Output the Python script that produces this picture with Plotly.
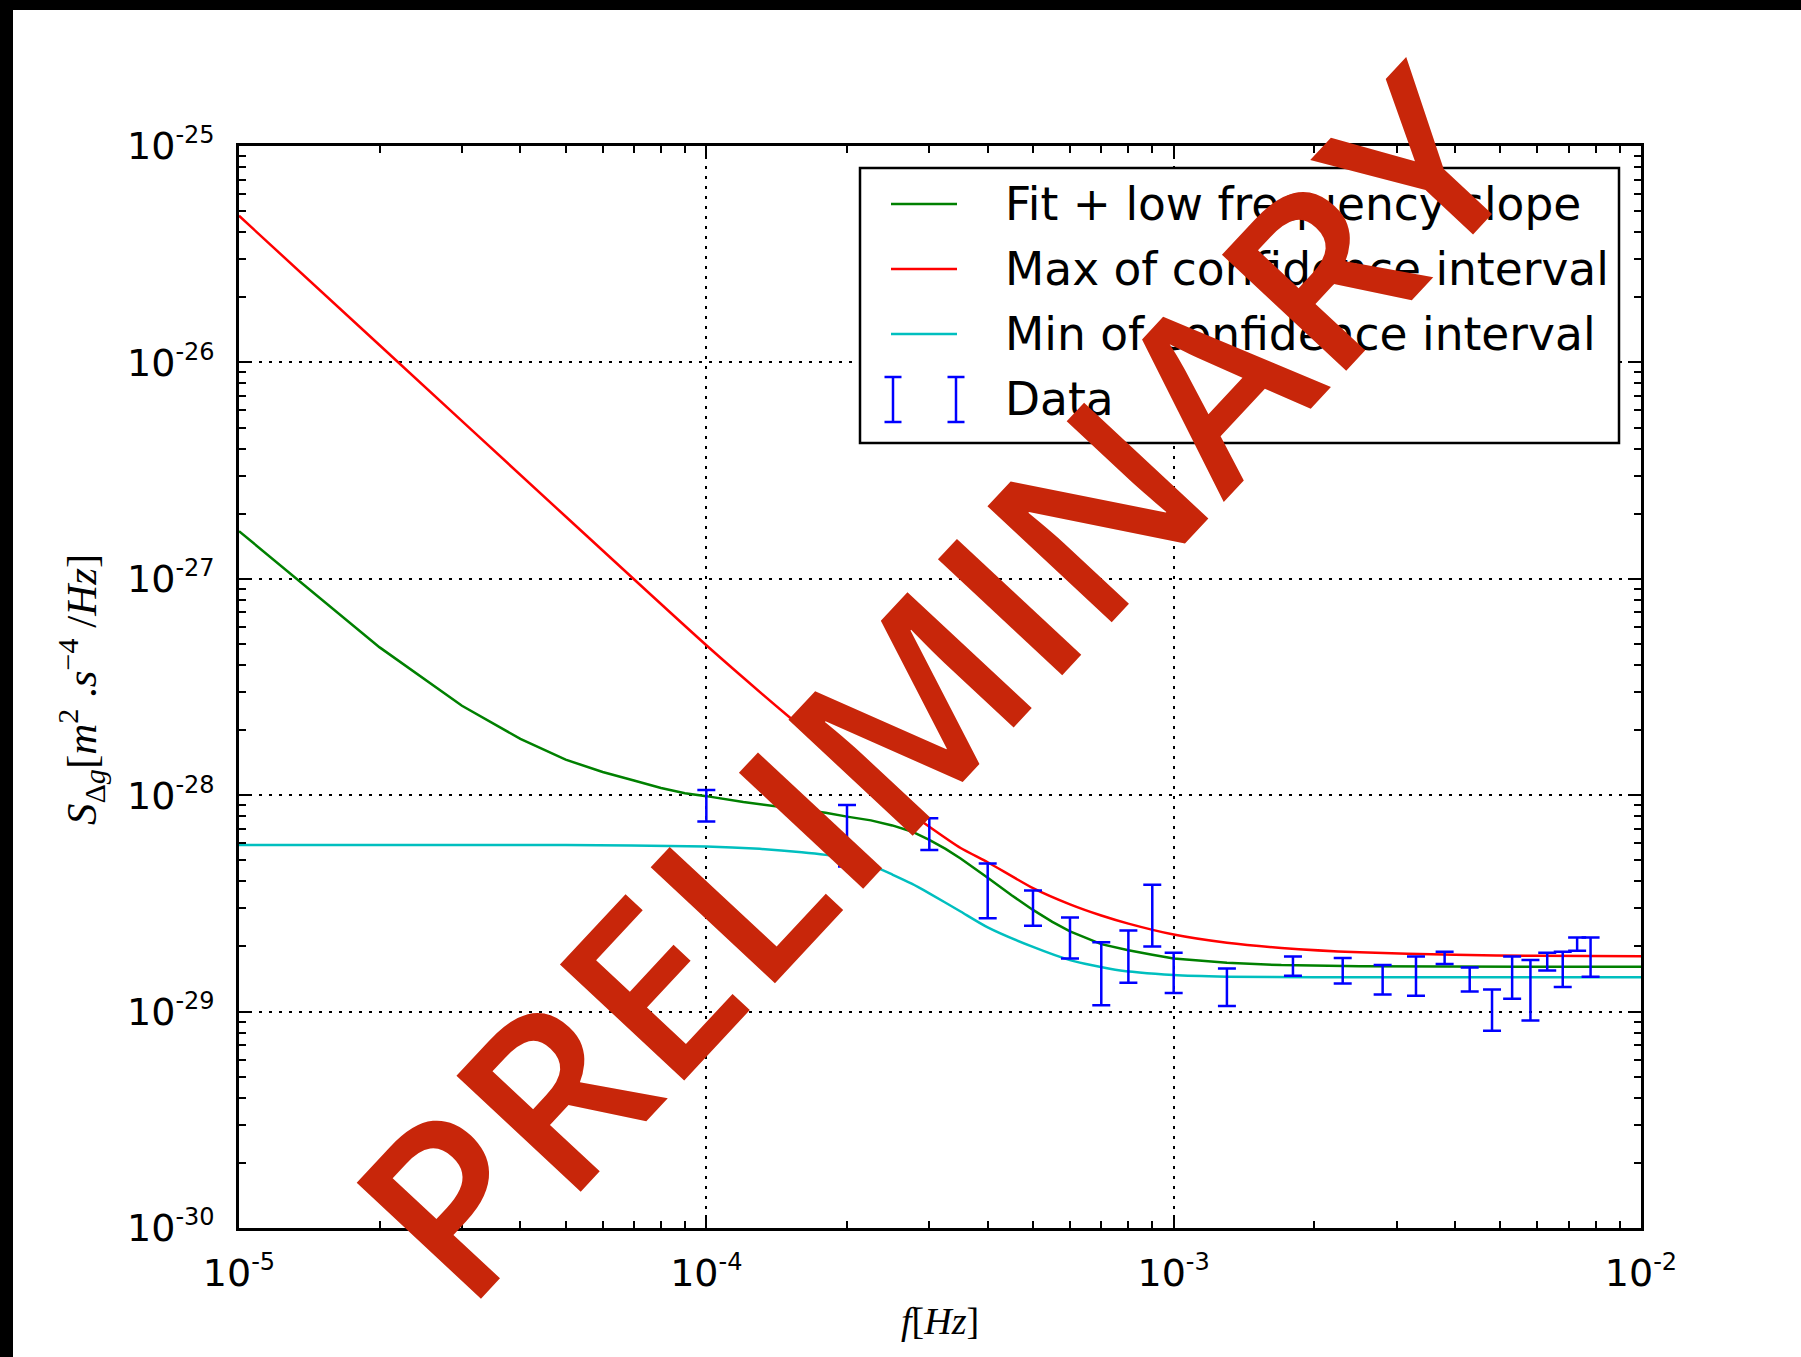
import plotly.graph_objects as go

# ---- data -----------------------------------------------------------------
# Fit + low frequency slope
fit_f = [1e-5, 2e-5, 3e-5, 4e-5, 5e-5, 6e-5, 7e-5, 8e-5, 9e-5, 1e-4,
         1.2e-4, 1.5e-4, 1.8e-4, 2e-4, 2.25e-4, 2.5e-4, 2.75e-4, 3e-4, 3.25e-4, 3.5e-4,
         3.75e-4, 4e-4, 4.5e-4, 5e-4, 5.5e-4, 6e-4, 7e-4, 8e-4, 9e-4, 1e-3,
         1.3e-3, 1.7e-3, 2.5e-3, 4e-3, 6e-3, 1e-2]
fit_s = [1.66e-27, 4.82e-28, 2.59e-28, 1.82e-28, 1.46e-28, 1.28e-28, 1.17e-28, 1.08e-28, 1.02e-28, 9.9e-29,
         9.3e-29, 8.75e-29, 8.3e-29, 7.96e-29, 7.65e-29, 7.25e-29, 6.8e-29, 6.21e-29, 5.65e-29, 5.1e-29,
         4.6e-29, 4.15e-29, 3.45e-29, 2.95e-29, 2.6e-29, 2.35e-29, 2.05e-29, 1.92e-29, 1.83e-29, 1.76e-29,
         1.68e-29, 1.64e-29, 1.62e-29, 1.61e-29, 1.61e-29, 1.61e-29]

# Max of confidence interval
max_f = [1e-5, 2e-5, 5e-5, 1e-4, 1.5e-4, 2e-4, 2.5e-4, 3e-4, 3.5e-4, 4e-4, 5e-4,
         6e-4, 7e-4, 8e-4, 1e-3, 1.3e-3, 1.7e-3, 2.5e-3, 4e-3, 6e-3, 1e-2]
max_s = [4.76e-26, 1.2e-26, 1.94e-27, 4.93e-28, 2.31e-28, 1.38e-28, 9.5e-29, 7.15e-29, 5.7e-29, 4.9e-29, 3.72e-29,
         3.13e-29, 2.78e-29, 2.55e-29, 2.27e-29, 2.08e-29, 1.97e-29, 1.88e-29, 1.83e-29, 1.81e-29, 1.8e-29]

# Min of confidence interval
min_f = [1e-5, 5e-5, 1e-4, 1.3e-4, 1.6e-4, 1.8e-4, 2e-4, 2.25e-4, 2.5e-4, 2.75e-4, 3e-4, 3.5e-4,
         4e-4, 5e-4, 6e-4, 7.5e-4, 1e-3, 1.3e-3, 2e-3, 4e-3, 1e-2]
min_s = [5.89e-29, 5.89e-29, 5.8e-29, 5.65e-29, 5.45e-29, 5.3e-29, 5.12e-29, 4.75e-29, 4.3e-29, 3.9e-29,
         3.52e-29, 2.9e-29, 2.45e-29, 1.99e-29, 1.73e-29, 1.56e-29, 1.475e-29, 1.45e-29, 1.44e-29,
         1.44e-29, 1.44e-29]

# Measured PSD with symmetric error bars
data_f = [1e-4, 2e-4, 3e-4, 4e-4, 5e-4, 6e-4, 7e-4, 8e-4, 9e-4, 1e-3,
          1.3e-3, 1.8e-3, 2.3e-3, 2.8e-3, 3.3e-3, 3.8e-3, 4.3e-3, 4.8e-3,
          5.3e-3, 5.8e-3, 6.3e-3, 6.8e-3, 7.3e-3, 7.8e-3]
data_s = [9.06e-29, 6.85e-29, 6.7e-29, 3.77e-29, 3.06e-29, 2.24e-29, 1.58e-29, 1.865e-29, 2.93e-29, 1.545e-29,
          1.32e-29, 1.63e-29, 1.56e-29, 1.42e-29, 1.49e-29, 1.775e-29, 1.42e-29, 1.04e-29,
          1.47e-29, 1.32e-29, 1.71e-29, 1.595e-29, 2.055e-29, 1.825e-29]
data_err = [1.5e-29, 2.17e-29, 1.12e-29, 1.07e-29, 0.565e-29, 0.48e-29, 0.51e-29, 0.505e-29, 0.93e-29, 0.325e-29,
            0.26e-29, 0.165e-29, 0.21e-29, 0.22e-29, 0.305e-29, 0.115e-29, 0.18e-29, 0.225e-29,
            0.325e-29, 0.41e-29, 0.16e-29, 0.295e-29, 0.145e-29, 0.375e-29]

x_tick_vals = [1e-5, 1e-4, 1e-3, 1e-2]
x_tick_exp = ["-5", "-4", "-3", "-2"]
y_tick_vals = [1e-30, 1e-29, 1e-28, 1e-27, 1e-26, 1e-25]
y_tick_exp = ["-30", "-29", "-28", "-27", "-26", "-25"]

legend_labels = ["Fit + low frequency slope", "Max of confidence interval",
                 "Min of confidence interval", "Data"]

GREEN, RED, CYAN, BLUE = "#008000", "#ff0000", "#00bfbf", "#0000ff"
STAMP = "rgb(200,38,10)"

# ---- geometry helpers (pixel -> paper) -------------------------------------
W, H = 1801, 1357
L, R, T, B = 239, 160, 146, 129
PW, PH = W - L - R, H - T - B


def px(x):
    return (x - L) / PW


def py(y):
    return (H - B - y) / PH


def minor_vals(lo, hi):
    vals = []
    for e in range(lo, hi):
        for d in range(2, 10):
            vals.append(d * 10.0 ** e)
    return vals


def power_label(exp):
    return "10<sup><span style='font-size:24px'>%s</span></sup>" % exp


fig = go.Figure()
fig.add_trace(go.Scatter(x=fit_f, y=fit_s, mode="lines",
                         line=dict(color=GREEN, width=2.5), name=legend_labels[0]))
fig.add_trace(go.Scatter(x=max_f, y=max_s, mode="lines",
                         line=dict(color=RED, width=2.5, shape="spline", smoothing=0.6),
                         name=legend_labels[1]))
fig.add_trace(go.Scatter(x=min_f, y=min_s, mode="lines",
                         line=dict(color=CYAN, width=2.5, shape="spline", smoothing=0.6),
                         name=legend_labels[2]))
fig.add_trace(go.Scatter(x=data_f, y=data_s, mode="markers", name=legend_labels[3],
                         marker=dict(size=2, opacity=0),
                         error_y=dict(type="data", array=data_err, color=BLUE,
                                      thickness=2.5, width=9)))

axis_common = dict(
    type="log", ticks="inside", ticklen=13, tickwidth=1.5, tickcolor="black",
    showline=True, linewidth=2.5, linecolor="black", mirror="allticks",
    showgrid=True, gridcolor="black", gridwidth=1.5, griddash="3px,7px",
    zeroline=False, tickfont=dict(family="DejaVu Sans", size=38, color="black"),
)
fig.update_xaxes(range=[-5, -2], tickvals=x_tick_vals,
                 ticktext=[power_label(e) for e in x_tick_exp],
                 ticklabelstandoff=10,
                 minor=dict(tickvals=minor_vals(-5, -2), ticks="inside", ticklen=7,
                            tickwidth=1.5, tickcolor="black", showgrid=False),
                 **axis_common)
fig.update_yaxes(range=[-30, -25], tickvals=y_tick_vals,
                 ticktext=[power_label(e) for e in y_tick_exp],
                 ticklabelstandoff=14,
                 minor=dict(tickvals=minor_vals(-30, -25), ticks="inside", ticklen=7,
                            tickwidth=1.5, tickcolor="black", showgrid=False),
                 **axis_common)

shapes = []
# dark frame bands along the left and top edges of the page
shapes.append(dict(type="rect", xref="paper", yref="paper", layer="above",
                   x0=px(0), x1=px(13), y0=py(H), y1=py(0),
                   fillcolor="black", line=dict(width=0)))
shapes.append(dict(type="rect", xref="paper", yref="paper", layer="above",
                   x0=px(0), x1=px(W), y0=py(10), y1=py(0),
                   fillcolor="black", line=dict(width=0)))

# legend box
shapes.append(dict(type="rect", xref="paper", yref="paper", layer="above",
                   x0=px(860), x1=px(1619), y0=py(443), y1=py(168),
                   fillcolor="white", line=dict(color="black", width=2.5)))
row_y = [204, 269, 334, 399]
for color, yy in zip([GREEN, RED, CYAN], row_y[:3]):
    shapes.append(dict(type="line", xref="paper", yref="paper", layer="above",
                       x0=px(891), x1=px(957), y0=py(yy), y1=py(yy),
                       line=dict(color=color, width=2.5)))
for xx in (893, 956):
    shapes.append(dict(type="line", xref="paper", yref="paper", layer="above",
                       x0=px(xx), x1=px(xx), y0=py(377), y1=py(422),
                       line=dict(color=BLUE, width=2.5)))
    for yy in (377, 422):
        shapes.append(dict(type="line", xref="paper", yref="paper", layer="above",
                           x0=px(xx - 8.5), x1=px(xx + 8.5), y0=py(yy), y1=py(yy),
                           line=dict(color=BLUE, width=2.5)))

annotations = []
for label, yy in zip(legend_labels, row_y):
    annotations.append(dict(xref="paper", yref="paper", x=px(1003), y=py(yy),
                            xanchor="left", yanchor="middle", showarrow=False,
                            text=label,
                            font=dict(family="DejaVu Sans", size=45.5, color="black")))

# axis titles
annotations.append(dict(xref="paper", yref="paper", x=px(940), y=py(1321),
                        xanchor="center", yanchor="middle", showarrow=False,
                        text="<i>f</i>[<i>Hz</i>]",
                        font=dict(family="Liberation Serif", size=38, color="black")))
annotations.append(dict(xref="paper", yref="paper", x=px(82), y=py(690),
                        xanchor="center", yanchor="middle", showarrow=False,
                        textangle=-90,
                        text="<i>S</i><sub>Δ<i>g</i></sub>[<i>m</i><sup>2</sup> .<i>s</i>"
                             "<sup>−4</sup> /<i>Hz</i>]",
                        font=dict(family="Liberation Serif", size=43, color="black")))

# diagonal stamp across the plot
annotations.append(dict(xref="paper", yref="paper", x=px(931), y=py(681),
                        xanchor="center", yanchor="middle", showarrow=False,
                        textangle=-47, text="PRELIMINARY",
                        font=dict(family="Open Sans", size=238, color=STAMP, weight=600)))

fig.update_layout(
    width=W, height=H,
    margin=dict(l=L, r=R, t=T, b=B, pad=0),
    paper_bgcolor="white", plot_bgcolor="white",
    showlegend=False,
    font=dict(family="DejaVu Sans", color="black"),
    shapes=shapes, annotations=annotations,
)

fig.write_html("out.html")
